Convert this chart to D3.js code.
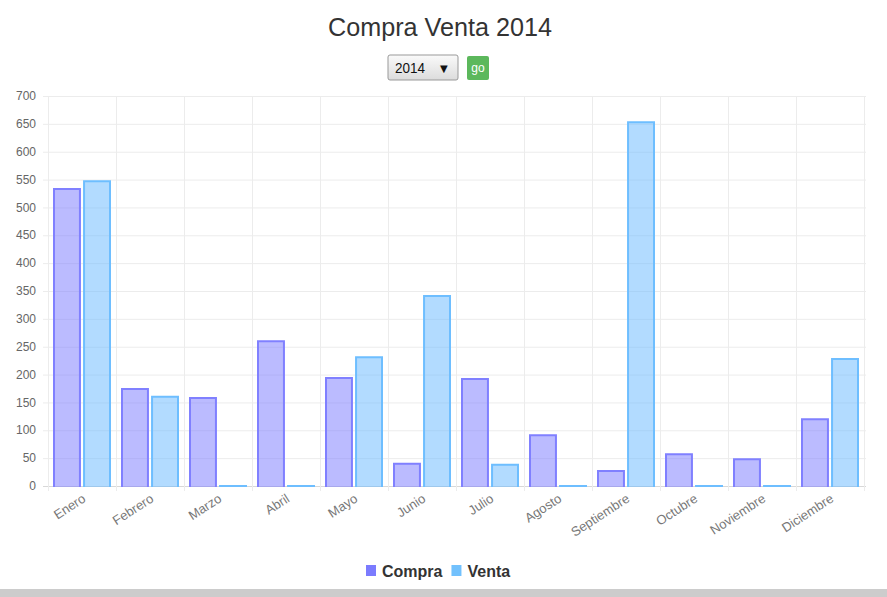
<!DOCTYPE html>
<html>
<head>
<meta charset="utf-8">
<script src="https://cdn.jsdelivr.net/npm/d3@7"></script>
<style>
  body { margin: 0; background: #fff; }
  svg { display: block; }
  text { font-family: "Liberation Sans", Arial, sans-serif; }
</style>
</head>
<body>
<div id="chart"></div>
<script>
// chart data
var meses = ["Enero", "Febrero", "Marzo", "Abril", "Mayo", "Junio", "Julio",
             "Agosto", "Septiembre", "Octubre", "Noviembre", "Diciembre"];
var compra = [533, 174, 158, 260, 194, 40, 192, 91, 27, 57, 48, 120];
var venta  = [547, 160, 0, 0, 231, 341, 38, 0, 653, 0, 0, 228];
var series = ["Compra", "Venta"];
var yTicks = [0, 50, 100, 150, 200, 250, 300, 350, 400, 450, 500, 550, 600, 650, 700];

var W = 887, H = 597;
var margin = {top: 96, right: 23, bottom: 111, left: 48},
    width = W - margin.left - margin.right,
    height = H - margin.top - margin.bottom;

var fills = {Compra: "rgba(120,120,255,0.5)", Venta: "rgba(102,184,255,0.5)"};
var strokes = {Compra: "rgba(128,128,255,1)", Venta: "rgba(110,190,255,1)"};
var legendCol = {Compra: "#7b7bfe", Venta: "#72c1fd"};

var root = d3.select("#chart").append("svg")
    .attr("width", W)
    .attr("height", H);

// title + selector
root.append("text")
    .attr("x", 440).attr("y", 36)
    .attr("text-anchor", "middle")
    .attr("font-size", 26)
    .attr("textLength", 224)
    .attr("lengthAdjust", "spacingAndGlyphs")
    .attr("fill", "#333")
    .text("Compra Venta 2014");

var sel = root.append("g").attr("transform", "translate(388,55)");
var grad = root.append("defs").append("linearGradient")
    .attr("id", "selgrad").attr("x1", 0).attr("y1", 0).attr("x2", 0).attr("y2", 1);
grad.append("stop").attr("offset", "0%").attr("stop-color", "#fafafa");
grad.append("stop").attr("offset", "100%").attr("stop-color", "#dcdcdc");
sel.append("rect")
    .attr("width", 70).attr("height", 25).attr("rx", 2)
    .attr("fill", "url(#selgrad)").attr("stroke", "#999");
sel.append("text")
    .attr("x", 7).attr("y", 18)
    .attr("font-size", 15).attr("fill", "#111")
    .attr("textLength", 30)
    .attr("lengthAdjust", "spacingAndGlyphs")
    .text("2014");
sel.append("text")
    .attr("x", 52).attr("y", 17)
    .attr("font-size", 10).attr("fill", "#111")
    .style("font-family", "DejaVu Sans")
    .text("▼");

var go = root.append("g").attr("transform", "translate(467,56)");
go.append("rect")
    .attr("width", 22).attr("height", 24).attr("rx", 2)
    .attr("fill", "#5cb85c");
go.append("text")
    .attr("x", 11).attr("y", 16)
    .attr("text-anchor", "middle")
    .attr("font-size", 12).attr("fill", "#fff")
    .text("go");

var svg = root.append("g")
    .attr("transform", "translate(" + margin.left + "," + margin.top + ")");

var x = d3.scaleBand()
    .domain(meses)
    .range([0, width])
    .padding(0);

var xSub = d3.scaleBand()
    .domain(series)
    .range([5, x.bandwidth() - 5])
    .paddingInner(0.07);

var y = d3.scaleLinear()
    .domain([0, 700])
    .range([height, 0]);

// horizontal grid + y ticks
svg.append("g")
  .selectAll("line")
  .data(yTicks)
  .enter()
  .append("line")
    .attr("x1", -5).attr("x2", width + 2)
    .attr("y1", d => y(d) + 0.5).attr("y2", d => y(d) + 0.5)
    .attr("stroke", d => d === 0 ? "#d8d8d8" : "#ececec");

svg.append("g")
  .selectAll("text")
  .data(yTicks)
  .enter()
  .append("text")
    .attr("x", -12)
    .attr("y", d => y(d))
    .attr("dy", "0.35em")
    .attr("text-anchor", "end")
    .attr("font-size", 12)
    .attr("fill", "#666")
    .text(d => d);

// vertical grid
svg.append("g")
  .selectAll("line")
  .data(d3.range(meses.length + 1))
  .enter()
  .append("line")
    .attr("x1", i => i * x.step() + 0.5).attr("x2", i => i * x.step() + 0.5)
    .attr("y1", 0).attr("y2", height + 5)
    .attr("stroke", "#ececec");

// bars (left, top, right edges stroked, like the original)
var rows = meses.map((m, i) => ({mes: m, Compra: compra[i], Venta: venta[i]}));

svg.append("g")
  .selectAll("g")
  .data(rows)
  .enter()
  .append("g")
    .attr("transform", d => "translate(" + x(d.mes) + ",0)")
  .selectAll("path")
  .data(d => series.map(key => ({key: key, value: d[key]})))
  .enter()
  .append("path")
    .attr("d", function(d) {
      var x0 = xSub(d.key) + 1, x1 = x0 + xSub.bandwidth() - 2,
          y0 = y(0) + 1, y1 = Math.min(y(d.value), y0 - 1);
      return "M" + x0 + "," + y0 + "V" + y1 + "H" + x1 + "V" + y0;
    })
    .attr("fill", d => fills[d.key])
    .attr("stroke", d => strokes[d.key])
    .attr("stroke-width", 2);

// x labels
svg.append("g")
  .selectAll("text")
  .data(meses)
  .enter()
  .append("text")
    .attr("transform", d => "translate(" + (x(d) + x.bandwidth() / 2 + 2) + "," + (height + 11) + ") rotate(-33)")
    .attr("text-anchor", "end")
    .attr("dy", "0.35em")
    .attr("font-size", 13)
    .attr("fill", "#777")
    .text(d => d);

// legend
var legend = root.append("g").attr("transform", "translate(366,565)");
var lx = 0;
series.forEach(function(s) {
  legend.append("rect")
    .attr("x", lx).attr("y", 0)
    .attr("width", 10).attr("height", 11)
    .attr("fill", legendCol[s]);
  var t = legend.append("text")
    .attr("x", lx + 16).attr("y", 12)
    .attr("font-weight", "bold")
    .attr("font-size", 16)
    .attr("fill", "#333")
    .text(s);
  lx += 16 + t.node().getComputedTextLength() + 9;
});

// bottom bar
root.append("rect")
    .attr("x", 0).attr("y", 589)
    .attr("width", W).attr("height", 8)
    .attr("fill", "#cccccc");
</script>
</body>
</html>
